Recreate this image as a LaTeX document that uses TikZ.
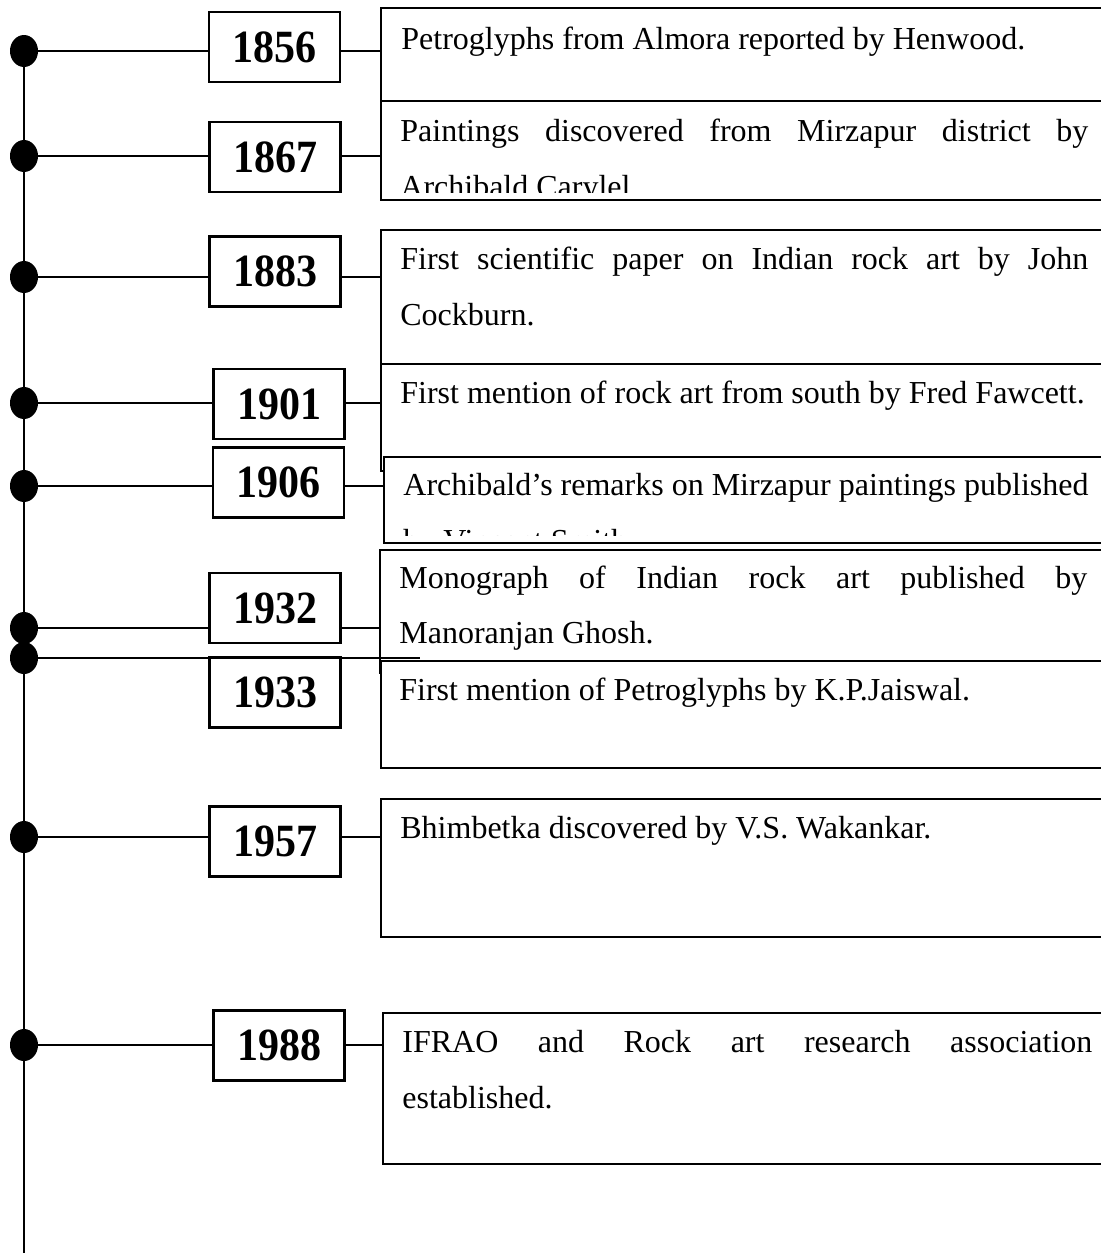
\documentclass[tikz,border=0pt]{standalone}
\usepackage{fontspec}
\setmainfont{Liberation Serif}
\usepackage{graphicx}
\usetikzlibrary{shapes.geometric}
\newcommand{\descfont}{\fontsize{16pt}{19pt}\selectfont}
\newcommand{\yrfont}{\fontsize{21pt}{24pt}\selectfont\bfseries}
\newcommand{\yr}[1]{\scalebox{1}[1.1]{#1}}
\tikzset{
  dotn/.style={ellipse, fill=black, minimum width=14pt, minimum height=16pt, inner sep=0pt},
  ybox/.style={draw, fill=white, line width=1.2pt, minimum width=65.5pt, minimum height=35pt, inner sep=0pt, font=\yrfont},
  tbox/.style={draw, fill=white, line width=1pt, inner sep=0pt, anchor=north west, minimum width=370pt},
  dtext/.style={anchor=base west, inner sep=0pt, font=\descfont},
  conn/.style={line width=1pt},
}
\begin{document}
\begin{tikzpicture}[x=0.5pt,y=-0.5pt]
\useasboundingbox (0,0) rectangle (1101,1253);
\clip (0,0) rectangle (1101,1253);

% text boxes
\node[tbox, minimum height=46.5pt] (t1856) at (380,7) {};
\node[tbox, minimum height=49.5pt] (t1867) at (380,100) {};
\node[tbox, minimum height=67pt] (t1883) at (380,229) {};
\node[tbox, minimum height=53.5pt] (t1901) at (380,363) {};
\node[tbox, minimum height=43pt] (t1906) at (382.5,456) {};
\node[tbox, minimum height=61.5pt] (t1932) at (379,549) {};
\node[tbox, minimum height=53.5pt] (t1933) at (380,660) {};
\node[tbox, minimum height=69pt] (t1957) at (380,798) {};
\node[tbox, minimum height=75.5pt] (t1988) at (382,1012) {};

% year boxes
\node[ybox] (y1856) at (274.5,47) {\yr{1856}};
\node[ybox] (y1867) at (275,157) {\yr{1867}};
\node[ybox] (y1883) at (275,271.5) {\yr{1883}};
\node[ybox] (y1901) at (279,404) {\yr{1901}};
\node[ybox] (y1906) at (278.5,482.5) {\yr{1906}};
\node[ybox] (y1932) at (275,608) {\yr{1932}};
\node[ybox] (y1933) at (275,692.5) {\yr{1933}};
\node[ybox] (y1957) at (275,841.5) {\yr{1957}};
\node[ybox] (y1988) at (279,1045.5) {\yr{1988}};

% dots
\node[dotn] (p1856) at (24,51) {};
\node[dotn] (p1867) at (24,156) {};
\node[dotn] (p1883) at (24,277) {};
\node[dotn] (p1901) at (24,403) {};
\node[dotn] (p1906) at (24,486) {};
\node[dotn] (p1932) at (24,628) {};
\node[dotn] (p1933) at (24,658) {};
\node[dotn] (p1957) at (24,837) {};
\node[dotn] (p1988) at (24,1045) {};
\coordinate (bottom) at (24,1253);
\coordinate (c1933) at (420,658);

% timeline
\draw[conn] (p1856.center) -- (bottom);

% connectors
\foreach \k in {1856,1867,1883,1901,1906,1932,1957,1988}{
  \draw[conn] (p\k.center) -- (p\k.center -| y\k.west);
  \draw[conn] (y\k.east |- p\k.center) -- (t\k.west |- p\k.center);
}
\draw[conn] (p1933.center) -- (p1933.center -| y1933.west);
\draw[conn] (y1933.east |- p1933.center) -- (c1933);

% texts
\node[dtext] (d1856) at (401,49) {Petroglyphs from Almora reported by Henwood.};
\node[dtext] (d1867a) at (400,141) {\makebox[344pt][s]{Paintings discovered from Mirzapur district by}};
\begin{scope}
\clip (381,101) rectangle (1101,192);
\node[dtext] (d1867b) at (400,197) {Archibald Carylel};
\end{scope}
\node[dtext] (d1883a) at (400,269) {\makebox[344pt][s]{First scientific paper on Indian rock art by John}};
\node[dtext] (d1883b) at (400,325) {Cockburn.};
\node[dtext] (d1901) at (400,403) {First mention of rock art from south by Fred Fawcett.};
\node[dtext] (d1906a) at (403,495) {Archibald’s remarks on Mirzapur paintings published};
\begin{scope}
\clip (384,457) rectangle (1101,535);
\node[dtext] (d1906b) at (403,551) {by Vincent Smith};
\end{scope}
\node[dtext] (d1932a) at (399,588) {\makebox[344pt][s]{Monograph of Indian rock art published by}};
\node[dtext] (d1932b) at (399,643) {Manoranjan Ghosh.};
\node[dtext] (d1933) at (399,700) {First mention of Petroglyphs by K.P.Jaiswal.};
\node[dtext] (d1957) at (400,838) {Bhimbetka discovered by V.S. Wakankar.};
\node[dtext] (d1988a) at (402,1052) {\makebox[345pt][s]{IFRAO and Rock art research association}};
\node[dtext] (d1988b) at (402,1108) {established.};
\end{tikzpicture}
\end{document}
